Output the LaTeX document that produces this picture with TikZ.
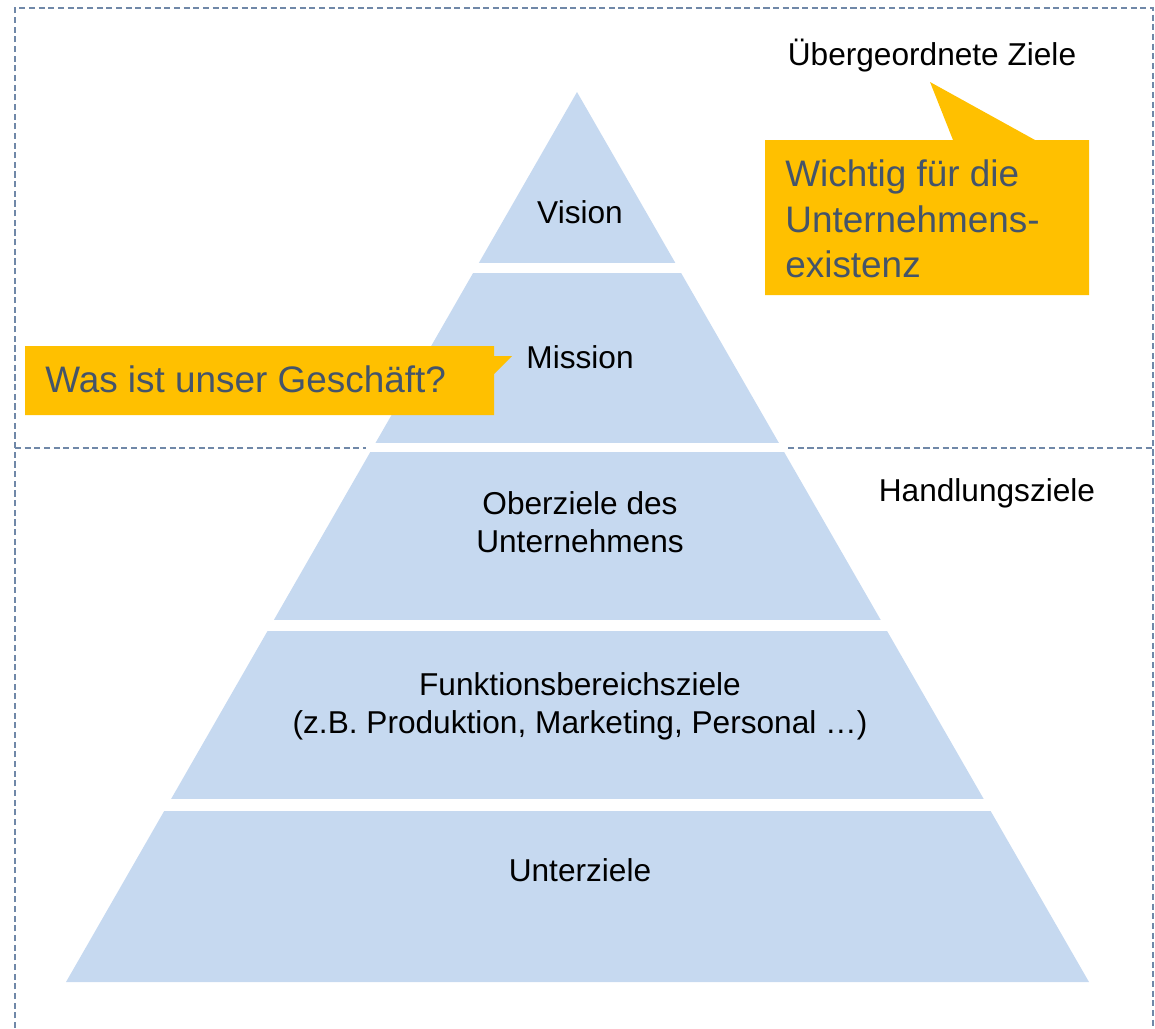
\documentclass[tikz,border=0pt]{standalone}
\usepackage{fontspec}
\setmainfont{Liberation Sans}
\usepackage{xcolor}
\usepackage{tikz}

\definecolor{pyrblue}{RGB}{198,217,240}
\definecolor{calloutgold}{RGB}{255,192,0}
\definecolor{calloutgrey}{RGB}{68,84,106}
\definecolor{frameblue}{RGB}{112,136,168}

\tikzset{
	dashframe/.style={draw=frameblue,line width=0.7pt,dash pattern=on 3.5pt off 2pt},
	whiteband/.style={fill=white},
	tier/.style={font=\fontsize{18}{21.5}\selectfont,align=center,inner sep=0pt},
	calltext/.style={font=\fontsize{21}{26}\selectfont,text=calloutgrey,align=left,inner sep=0pt,anchor=west}
}

\begin{document}
\begin{tikzpicture}[x=0.02cm,y=-0.02cm]
	\useasboundingbox (0,0) rectangle (1155,1028);
	%
	%  FRAMES
	%
	\draw[dashframe] (15,1028) -- (15,8) -- (1153,8) -- (1153,1028);
	\draw[dashframe] (15,448) -- (1153,448);
	%
	%  PYRAMID
	%
	\coordinate (apex) at (577,92);
	\coordinate (bl) at (66,982);
	\coordinate (br) at (1089,982);
	\fill[pyrblue] (apex) -- (br) -- (bl) -- cycle;
	\fill[whiteband] (472,263) rectangle (682,273);
	\fill[whiteband] (366,443) rectangle (788,452);
	\fill[whiteband] (264,620) rectangle (891,631);
	\fill[whiteband] (160,799) rectangle (994,811);
	%
	%  LEVELS
	%
	\node[tier] (vision) at (580,212) {Vision};
	\node[tier] (mission) at (580,357) {Mission};
	\node[tier] (ober) at (580,522) {Oberziele des\\Unternehmens};
	\node[tier] (funktion) at (580,706) {Funktionsbereichsziele\\(z.B. Produktion, Marketing, Personal …)};
	\node[tier] (unter) at (580,870) {Unterziele};
	%
	%  SIDE LABELS
	%
	\node[tier] (uebergeordnet) at (932,56) {Übergeordnete Ziele};
	\node[tier] (handlung) at (987,493) {Handlungsziele};
	%
	%  CALLOUTS
	%
	\fill[calloutgold] (765,140) -- (953,140) -- (930,82) -- (1035,140) -- (1089,140)
		-- (1089,295) -- (765,295) -- cycle;
	\node[calltext] (existenz) at (785,219) {Wichtig für die\\Unternehmens-\\existenz};
	\fill[calloutgold] (25,346) -- (494,346) -- (494,356) -- (512,356) -- (494,374)
		-- (494,415) -- (25,415) -- cycle;
	\node[calltext] (geschaeft) at (45,379) {Was ist unser Geschäft?};
\end{tikzpicture}
\end{document}
